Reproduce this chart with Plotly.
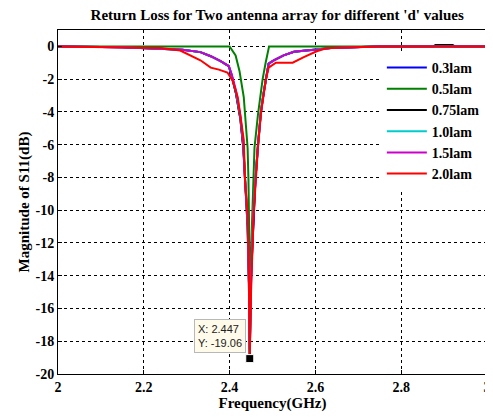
import plotly.graph_objects as go

# ---- data ----
x_03 = [2.0, 2.15, 2.29, 2.332, 2.356, 2.379, 2.398, 2.405, 2.415, 2.425, 2.432, 2.437, 2.442, 2.445, 2.447, 2.450, 2.455, 2.460, 2.466, 2.473, 2.479, 2.485, 2.491, 2.503, 2.526, 2.55, 2.582, 2.605, 2.636, 2.706, 2.75, 3.0]
y_03 = [0, -0.05, -0.2, -0.35, -0.6, -0.9, -1.2, -1.8, -2.9, -4.4, -6.2, -8.6, -11.0, -14.5, -18.8, -14.0, -10.5, -8.2, -6.1, -4.0, -2.9, -1.9, -1.05, -0.85, -0.55, -0.33, -0.23, -0.2, -0.1, -0.04, 0, 0]

x_05 = [2.0, 2.40, 2.414, 2.423, 2.433, 2.437, 2.442, 2.444, 2.446, 2.447, 2.449, 2.452, 2.455, 2.458, 2.466, 2.472, 2.477, 2.484, 2.489, 2.492, 3.0]
y_05 = [0, 0, -0.55, -1.5, -3.1, -4.3, -6.2, -8.2, -12.0, -18.9, -14.0, -11.0, -8.2, -6.2, -4.2, -3.0, -2.0, -1.0, -0.3, 0, 0]

x_075 = [2.0, 2.15, 2.29, 2.332, 2.356, 2.379, 2.398, 2.405, 2.415, 2.425, 2.432, 2.437, 2.442, 2.445, 2.447, 2.450, 2.455, 2.460, 2.466, 2.473, 2.479, 2.485, 2.491, 2.503, 2.526, 2.55, 2.582, 2.605, 2.636, 2.706, 2.75, 2.875, 2.88, 2.92, 2.925, 3.0]
y_075 = [0, -0.05, -0.2, -0.35, -0.6, -0.9, -1.2, -1.8, -2.9, -4.4, -6.2, -8.6, -11.0, -14.5, -18.8, -14.0, -10.5, -8.2, -6.1, -4.0, -2.9, -1.9, -1.05, -0.85, -0.55, -0.33, -0.23, -0.2, -0.1, -0.04, 0, 0, 0.08, 0.08, 0, 0]

x_10 = [2.0, 2.15, 2.29, 2.332, 2.356, 2.379, 2.398, 2.405, 2.415, 2.425, 2.432, 2.437, 2.442, 2.445, 2.447, 2.450, 2.455, 2.460, 2.466, 2.473, 2.479, 2.485, 2.491, 2.503, 2.526, 2.55, 2.582, 2.605, 2.636, 2.706, 2.75, 3.0]
y_10 = [0, -0.05, -0.2, -0.35, -0.6, -0.9, -1.2, -1.75, -2.8, -4.3, -6.0, -8.4, -10.8, -14.2, -18.7, -14.2, -10.3, -8.1, -6.0, -4.0, -2.9, -1.9, -1.05, -0.85, -0.55, -0.33, -0.23, -0.2, -0.1, -0.04, 0, 0]

x_15 = [2.0, 2.15, 2.29, 2.332, 2.356, 2.379, 2.398, 2.405, 2.415, 2.425, 2.432, 2.436, 2.442, 2.445, 2.447, 2.450, 2.456, 2.461, 2.466, 2.473, 2.479, 2.485, 2.491, 2.503, 2.526, 2.55, 2.582, 2.605, 2.636, 2.706, 2.75, 3.0]
y_15 = [0, -0.05, -0.2, -0.35, -0.6, -0.9, -1.2, -1.7, -2.7, -4.2, -5.9, -8.2, -10.5, -14.0, -18.5, -14.5, -10.0, -8.0, -6.0, -4.0, -2.9, -1.9, -1.05, -0.85, -0.55, -0.33, -0.23, -0.2, -0.1, -0.04, 0, 0]

x_20 = [2.0, 2.10, 2.16, 2.24, 2.285, 2.332, 2.356, 2.375, 2.395, 2.407, 2.419, 2.426, 2.433, 2.436, 2.442, 2.445, 2.447, 2.450, 2.456, 2.461, 2.466, 2.473, 2.479, 2.484, 2.491, 2.508, 2.547, 2.573, 2.603, 2.625, 2.652, 2.706, 2.75, 3.0]
y_20 = [0, -0.05, -0.1, -0.1, -0.25, -0.85, -1.3, -1.42, -1.6, -2.1, -3.1, -4.3, -5.7, -8.2, -10.2, -14.0, -19.06, -15.0, -10.2, -8.2, -6.2, -4.1, -3.0, -2.1, -1.3, -1.0, -1.0, -0.65, -0.3, -0.12, -0.08, -0.03, 0, 0]

names = ["0.3lam", "0.5lam", "0.75lam", "1.0lam", "1.5lam", "2.0lam"]
colors = ["#0000FF", "#008000", "#000000", "#00CCCC", "#CC00CC", "#FF0000"]
xs = [x_03, x_05, x_075, x_10, x_15, x_20]
ys = [y_03, y_05, y_075, y_10, y_15, y_20]

x_ticks = [2, 2.2, 2.4, 2.6, 2.8, 3]
y_ticks = [0, -2, -4, -6, -8, -10, -12, -14, -16, -18, -20]

tip_x = 2.447
tip_y = -19.06

serif = "Liberation Serif, Times New Roman, serif"

fig = go.Figure()
for xv, yv, n, c in zip(xs, ys, names, colors):
    fig.add_trace(go.Scatter(x=xv, y=yv, mode="lines", name="<b>" + n + "</b>",
                             line=dict(color=c, width=2)))

fig.add_trace(go.Scatter(x=[tip_x], y=[tip_y], mode="markers", showlegend=False,
                         marker=dict(symbol="square", size=8, color="black",
                                     line=dict(color="white", width=1))))

fig.add_annotation(x=tip_x, y=tip_y, xref="x", yref="y",
                   text="X: 2.447<br>Y: -19.06", showarrow=False,
                   xanchor="right", yanchor="bottom", xshift=-4, yshift=6,
                   align="left", bgcolor="#FFFBEA", bordercolor="#B8B8B8",
                   borderwidth=1, borderpad=3,
                   font=dict(family="Liberation Sans, Arial, sans-serif", size=11, color="#222222"))

axis_common = dict(showline=True, linecolor="black", linewidth=1, mirror=True,
                   showgrid=True, gridcolor="black", gridwidth=1, griddash="3px,3px",
                   zeroline=False, ticks="inside", ticklen=4, tickcolor="black",
                   automargin=False,
                   tickfont=dict(family=serif, size=14, color="black"))

fig.update_xaxes(range=[2, 3], tickvals=x_ticks, ticktext=["<b>%g</b>" % v for v in x_ticks],
                 title=dict(text="<b>Frequency(GHz)</b>", font=dict(family=serif, size=15, color="black"), standoff=0),
                 **axis_common)
fig.update_yaxes(range=[-20, 1], tickvals=y_ticks, ticktext=["<b>%g</b>" % v for v in y_ticks],
                 title=dict(text="<b>Magnitude of S11(dB)</b>", font=dict(family=serif, size=15, color="black"), standoff=2),
                 **axis_common)

fig.update_layout(
    width=485, height=409,
    margin=dict(l=50, r=6, t=22, b=43),
    paper_bgcolor="white", plot_bgcolor="white",
    title=dict(text="<b>Return Loss for Two antenna array for different 'd' values</b>",
               font=dict(family=serif, size=15, color="black"),
               x=0.555, xanchor="center", y=1.0, yanchor="top", pad=dict(t=1)),
    font=dict(family=serif, color="black"),
    legend=dict(x=0.995, xanchor="right", y=0.936, yanchor="top",
                bgcolor="white", borderwidth=0,
                font=dict(family=serif, size=14, color="black"),
                itemwidth=40, tracegroupgap=0),
    showlegend=True,
)

fig.write_html("out.html")
